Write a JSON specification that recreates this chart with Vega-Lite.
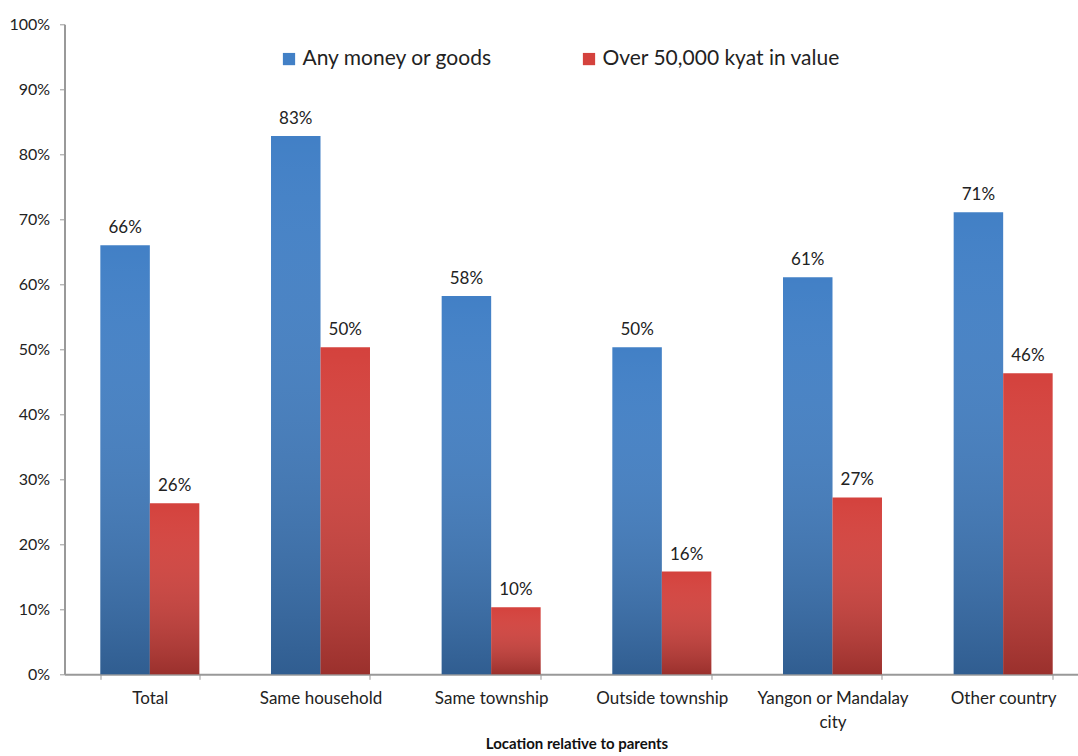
{
  "$schema": "https://vega.github.io/schema/vega-lite/v6.json",
  "width": 1024,
  "height": 650,
  "autosize": {"type": "none"},
  "padding": {"left": 64.5, "top": 24.3, "right": 0, "bottom": 82},
  "config": {"view": {"stroke": null}, "font": "Lato", "text": {"font": "Lato"}},
  "data": {
    "values": [
      {"loc": "Total", "series": "Any money or goods", "value": 0.66},
      {"loc": "Total", "series": "Over 50,000 kyat in value", "value": 0.263},
      {"loc": "Same household", "series": "Any money or goods", "value": 0.828},
      {"loc": "Same household", "series": "Over 50,000 kyat in value", "value": 0.503},
      {"loc": "Same township", "series": "Any money or goods", "value": 0.582},
      {"loc": "Same township", "series": "Over 50,000 kyat in value", "value": 0.103},
      {"loc": "Outside township", "series": "Any money or goods", "value": 0.503},
      {"loc": "Outside township", "series": "Over 50,000 kyat in value", "value": 0.158},
      {"loc": "Yangon or Mandalay city", "series": "Any money or goods", "value": 0.611},
      {"loc": "Yangon or Mandalay city", "series": "Over 50,000 kyat in value", "value": 0.272},
      {"loc": "Other country", "series": "Any money or goods", "value": 0.711},
      {"loc": "Other country", "series": "Over 50,000 kyat in value", "value": 0.463}
    ]
  },
  "encoding": {
    "x": {
      "field": "loc",
      "type": "nominal",
      "sort": ["Total", "Same household", "Same township", "Outside township", "Yangon or Mandalay city", "Other country"],
      "scale": {"paddingInner": 0.42, "paddingOuter": 0.21},
      "axis": {
        "title": "Location relative to parents",
        "titleFontWeight": "bold",
        "titleFontSize": 15,
        "titleColor": "#111",
        "titlePadding": 6,
        "labelAngle": 0,
        "labelFontSize": 17,
        "labelColor": "#222",
        "labelPadding": 11,
        "labelLineHeight": 24,
        "labelLimit": 300,
        "labelExpr": "datum.value == 'Yangon or Mandalay city' ? ['Yangon or Mandalay', 'city'] : datum.value",
        "tickBand": "extent",
        "tickSize": 5,
        "tickColor": "#999",
        "domainColor": "#999",
        "domainWidth": 2
      }
    },
    "xOffset": {"field": "series", "type": "nominal", "sort": ["Any money or goods", "Over 50,000 kyat in value"]},
    "y": {
      "field": "value",
      "type": "quantitative",
      "scale": {"domain": [0, 1]},
      "axis": {
        "title": null,
        "format": ".0%",
        "values": [0, 0.1, 0.2, 0.3, 0.4, 0.5, 0.6, 0.7, 0.8, 0.9, 1],
        "grid": false,
        "labelFontSize": 16,
        "labelColor": "#222",
        "labelPadding": 10,
        "tickSize": 5,
        "tickColor": "#999",
        "domainColor": "#999",
        "domainWidth": 2
      }
    }
  },
  "layer": [
    {
      "mark": {"type": "bar"},
      "encoding": {
        "color": {
          "field": "series",
          "type": "nominal",
          "scale": {"domain": ["Any money or goods", "Over 50,000 kyat in value"], "range": ["#4280C6", "#D4423D"]},
          "legend": {
            "title": null,
            "orient": "none",
            "legendX": 214,
            "legendY": 24,
            "direction": "horizontal",
            "symbolType": "square",
            "symbolSize": 150,
            "symbolStrokeWidth": 0,
            "labelFontSize": 21,
            "labelColor": "#222",
            "labelOffset": 3,
            "labelLimit": 400,
            "columnPadding": 85
          }
        }
      }
    },
    {
      "mark": {
        "type": "bar",
        "fill": {
          "gradient": "linear",
          "x1": 0, "y1": 0, "x2": 0, "y2": 1,
          "stops": [
            {"offset": 0, "color": "rgba(255,255,255,0.0)"},
            {"offset": 1, "color": "rgba(0,0,0,0.27)"}
          ]
        }
      }
    },
    {
      "mark": {"type": "text", "baseline": "bottom", "dy": -8, "fontSize": 17, "color": "#222"},
      "encoding": {"text": {"field": "value", "type": "quantitative", "format": ".0%"}}
    }
  ]
}
